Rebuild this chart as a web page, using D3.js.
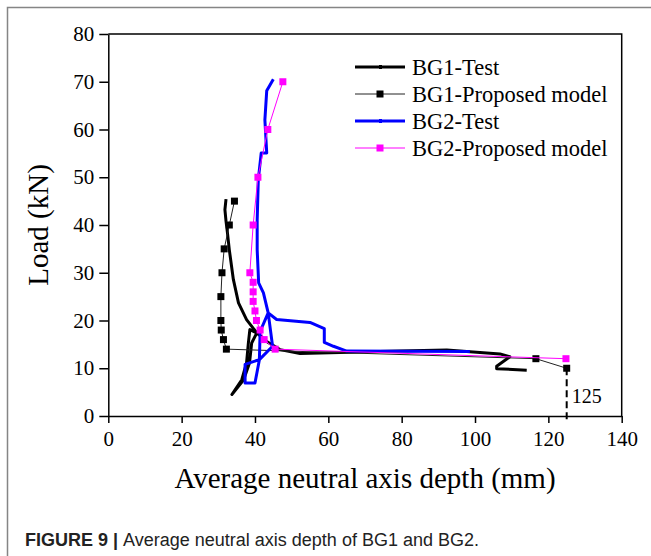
<!DOCTYPE html>
<html>
<head>
<meta charset="utf-8">
<script src="https://cdn.jsdelivr.net/npm/d3@7"></script>
<style>
  body { margin: 0; background: #fff; }
  svg { display: block; }
</style>
</head>
<body>
<div id="chart"></div>
<script>
// BG1 test curve (mm, kN)
var bg1_test = [
    [32.1, 45.4], [31.8, 43.2], [32.1, 40.8], [32.5, 38.3], [33.0, 34.8],
    [34.1, 28.6], [35.5, 23.7], [37.7, 20.2], [40.5, 17.4], [38.6, 18.1],
    [38.2, 15.3], [37.7, 11.1], [36.4, 7.6], [33.7, 4.5], [36.9, 7.6],
    [38.5, 11.1], [39.1, 15.3], [40.5, 17.4], [43.2, 15.6], [46.8, 13.9],
    [52.3, 13.1], [79.5, 13.6], [92.3, 13.8], [106.8, 13.0], [109.5, 12.4],
    [105.9, 10.4], [105.9, 9.9], [114.1, 9.6]
];
var bg1_model = [
    [34.4, 45], [33.0, 40], [31.6, 35], [31.0, 30], [30.7, 25], [30.7, 20],
    [30.8, 18], [31.4, 16], [32.2, 14], [116.6, 12], [125, 10]
];
var bg2_test = [
    [45.0, 70.5], [43.2, 68.1], [42.7, 62.0], [43.2, 55.1], [41.7, 55.1],
    [40.9, 49.5], [40.6, 41.0], [40.6, 34.8], [41.0, 27.9], [42.3, 25.8],
    [43.6, 21.6], [44.8, 14.6], [41.2, 11.8], [37.3, 10.8], [37.3, 6.9],
    [40.0, 6.9], [41.2, 11.8], [41.4, 17.7], [43.6, 21.6], [45.9, 20.2],
    [55.0, 19.6], [58.9, 18.3], [58.9, 15.4], [61.4, 14.6], [65.0, 13.6],
    [98.6, 13.5]
];
var bg2_model = [
    [47.6, 70], [43.5, 60], [40.8, 50], [39.5, 40], [38.6, 30], [39.5, 28],
    [39.5, 26], [39.5, 24], [40.0, 22], [40.4, 20], [41.4, 18], [42.5, 16],
    [45.5, 14], [124.8, 12]
];
var depth_limit = 125;
var x_ticks = [0, 20, 40, 60, 80, 100, 120, 140];
var y_ticks = [0, 10, 20, 30, 40, 50, 60, 70, 80];
var legend_names = ['BG1-Test', 'BG1-Proposed model', 'BG2-Test', 'BG2-Proposed model'];

var width = 651;
var height = 556;
var serif = "'Liberation Serif', 'Times New Roman', serif";

var svg = d3.select('#chart')
    .append('svg')
    .attr('width', width)
    .attr('height', height);

// outer figure frame (left and top only visible)
svg.append('path')
    .attr('d', 'M7.5,' + height + 'V7.5H' + width)
    .attr('fill', 'none')
    .attr('stroke', '#858585')
    .attr('stroke-width', 1.5);

var x_scale = d3.scaleLinear()
    .domain([0, 140])
    .range([108.3, 621.7]);

var y_scale = d3.scaleLinear()
    .domain([0, 80])
    .range([416, 34]);

var x_axis = d3.axisBottom(x_scale)
    .tickValues(x_ticks)
    .tickSize(7)
    .tickSizeOuter(0)
    .tickPadding(8);

var y_axis = d3.axisLeft(y_scale)
    .tickValues(y_ticks)
    .tickSize(9)
    .tickSizeOuter(0)
    .tickPadding(5);

var gx = svg.append('g')
    .attr('transform', 'translate(0,' + y_scale(0) + ')')
    .call(x_axis);

var gy = svg.append('g')
    .attr('transform', 'translate(' + x_scale(0) + ',0)')
    .call(y_axis);

[gx, gy].forEach(function(g) {
    g.selectAll('path, line').attr('stroke', '#000').attr('stroke-width', 1.5);
    g.selectAll('text')
        .attr('font-family', serif)
        .attr('font-size', 21)
        .attr('fill', '#000');
});

// top and right frame of the plot
svg.append('path')
    .attr('d', 'M' + x_scale(0) + ',' + y_scale(80) + 'H' + x_scale(140) + 'V' + y_scale(0))
    .attr('fill', 'none')
    .attr('stroke', '#000')
    .attr('stroke-width', 1.5);

var line = d3.line()
    .x(function(d) { return x_scale(d[0]); })
    .y(function(d) { return y_scale(d[1]); });

// dashed marker at section depth
svg.append('line')
    .attr('x1', x_scale(depth_limit))
    .attr('x2', x_scale(depth_limit))
    .attr('y1', y_scale(10))
    .attr('y2', y_scale(0) + 6)
    .attr('stroke', '#000')
    .attr('stroke-width', 2)
    .attr('stroke-dasharray', '7,4');

svg.append('text')
    .attr('x', x_scale(depth_limit) + 5)
    .attr('y', 403)
    .attr('font-family', serif)
    .attr('font-size', 20)
    .text(depth_limit);

var series = [
    {data: bg1_test, color: '#000', width: 3, marker: false},
    {data: bg1_model, color: '#222', width: 1, marker: true, mcolor: '#000'},
    {data: bg2_test, color: '#0000ff', width: 3, marker: false},
    {data: bg2_model, color: '#ff00ff', width: 1, marker: true, mcolor: '#ff00ff'}
];

series.forEach(function(s) {
    svg.append('path')
        .datum(s.data)
        .attr('d', line)
        .attr('fill', 'none')
        .attr('stroke', s.color)
        .attr('stroke-width', s.width)
        .attr('stroke-linejoin', 'round');
    if (s.marker) {
        svg.append('g')
            .selectAll('rect')
            .data(s.data)
            .enter()
            .append('rect')
            .attr('x', function(d) { return x_scale(d[0]) - 3.5; })
            .attr('y', function(d) { return y_scale(d[1]) - 3.5; })
            .attr('width', 7)
            .attr('height', 7)
            .attr('fill', s.mcolor);
    }
});

// legend
var legend_y = [67, 94, 121, 148];
series.forEach(function(s, i) {
    var g = svg.append('g').attr('transform', 'translate(355,' + legend_y[i] + ')');
    g.append('line')
        .attr('x1', 0).attr('x2', 50)
        .attr('stroke', s.color)
        .attr('stroke-width', s.width);
    if (s.marker) {
        g.append('rect')
            .attr('x', 21.5).attr('y', -3.5)
            .attr('width', 7).attr('height', 7)
            .attr('fill', s.mcolor);
    } else {
        g.append('rect')
            .attr('x', 24).attr('y', -2)
            .attr('width', 3).attr('height', 4)
            .attr('fill', s.color);
    }
    g.append('text')
        .attr('x', 57)
        .attr('y', 8)
        .attr('font-family', serif)
        .attr('font-size', 22.5)
        .text(legend_names[i]);
});

// axis titles
svg.append('text')
    .attr('x', (x_scale(0) + x_scale(140)) / 2)
    .attr('y', 488)
    .attr('text-anchor', 'middle')
    .attr('font-family', serif)
    .attr('font-size', 29)
    .text('Average neutral axis depth (mm)');

svg.append('text')
    .attr('transform', 'translate(48,' + (y_scale(40)) + ') rotate(-90)')
    .attr('text-anchor', 'middle')
    .attr('font-family', serif)
    .attr('font-size', 29)
    .text('Load (kN)');

// caption
var cap = svg.append('text')
    .attr('x', 25)
    .attr('y', 546)
    .attr('font-family', "'Liberation Sans', Arial, sans-serif")
    .attr('font-size', 18)
    .attr('fill', '#222');
cap.append('tspan').attr('font-weight', 'bold').text('FIGURE 9 | ');
cap.append('tspan').text('Average neutral axis depth of BG1 and BG2.');
</script>
</body>
</html>
